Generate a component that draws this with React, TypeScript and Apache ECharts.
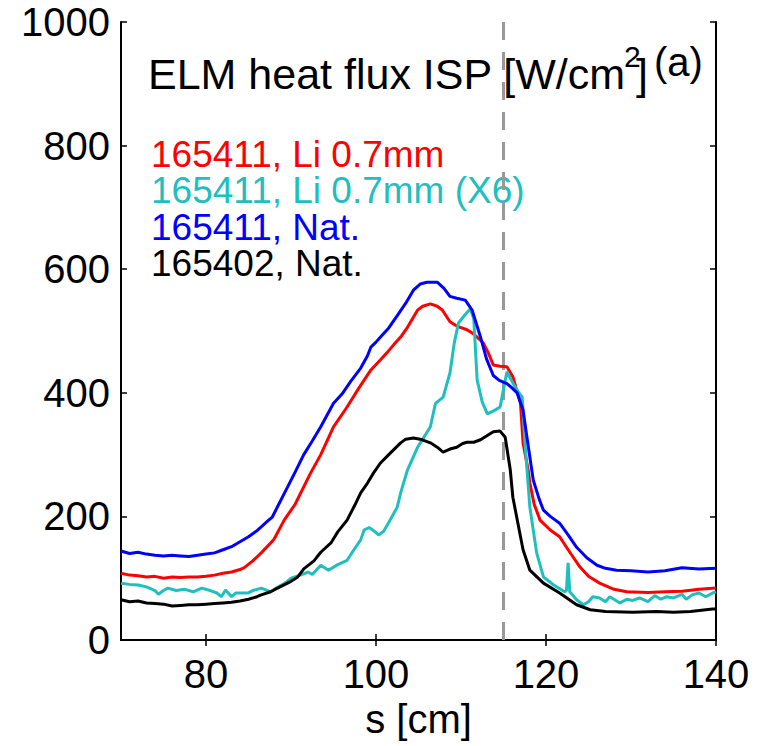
import React, { useEffect, useRef } from "react";
import * as echarts from "echarts";

// ---- data ----
const sRed = [70, 71, 72, 73, 74, 75, 76, 77, 78, 79, 80, 81, 82, 83, 84, 84.5, 85.5, 86.5, 87.6, 88, 89.2, 90.5, 92.3, 93.5, 95, 96.5, 98, 99.4, 100.5, 101.3, 102.1, 103, 103.7, 104.9, 105.5, 106.4, 107.2, 107.8, 108.7, 109.5, 110.7, 111.5, 112.6, 113.2, 113.8, 114.6, 115.4, 116.1, 117, 117.3, 117.9, 118.1, 118.6, 119.3, 120.5, 121.6, 122.8, 124, 125, 126.3, 128, 129.5, 132, 134, 136, 138, 140];
const qRed = [108, 105, 104, 102, 103, 100, 102, 101, 102, 102, 103, 105, 108, 110, 114, 117, 128, 141, 157, 163, 194, 220, 270, 300, 345, 375, 408, 437, 453, 465, 478, 492, 506, 534, 540, 544, 540, 534, 515, 508, 502, 495, 481, 465, 445, 443, 442, 426, 383, 319, 275, 254, 220, 194, 178, 167, 142, 118, 103, 92, 82, 78, 77, 78, 79, 82, 84];

const sCyan = [70, 71, 72, 73, 74, 74.4, 75, 75.5, 76.5, 77.5, 78.5, 79.5, 80.5, 81.3, 81.8, 82.3, 83, 83.5, 84.9, 85.5, 86.5, 87.6, 88.5, 89.3, 90, 91.1, 92, 92.5, 93.5, 94.4, 95.5, 96.6, 97.4, 98.2, 98.6, 99.2, 99.8, 100.3, 100.9, 101.5, 102.5, 102.9, 103.7, 104.9, 105.5, 106.4, 107, 107.9, 108.7, 109.2, 109.7, 110.4, 111.1, 111.5, 111.9, 112.5, 113.1, 114, 114.6, 115.4, 116.1, 116.8, 117.2, 117.5, 118.1, 118.9, 119.7, 120.9, 122.2, 122.4, 122.6, 122.8, 123.6, 124.4, 125, 125.5, 126.3, 127, 127.5, 128.7, 129.5, 130.2, 131, 132, 132.8, 133.5, 134.2, 135, 136, 136.5, 137.2, 138, 138.8, 139.6, 140];
const qCyan = [92, 90, 89, 86, 80, 74, 80, 84, 80, 82, 78, 84, 80, 76, 70, 81, 70, 76, 76, 80, 84, 78, 86, 92, 100, 105, 110, 106, 121, 113, 122, 129, 146, 162, 178, 182, 176, 170, 176, 190, 215, 238, 275, 312, 325, 345, 383, 393, 432, 480, 513, 525, 536, 520, 421, 385, 366, 372, 377, 434, 416, 400, 393, 324, 215, 141, 102, 89, 78, 80, 125, 78, 65, 57, 62, 70, 68, 62, 70, 60, 66, 64, 68, 62, 72, 66, 70, 68, 74, 66, 73, 76, 70, 76, 78];

const sBlue = [70, 71, 72, 73, 74, 75, 76, 77, 78, 79, 80, 81, 82, 83, 84, 85, 86, 86.5, 87.3, 87.8, 88.5, 89.5, 90.5, 91.5, 92.5, 93.5, 95, 96, 97, 98.2, 99, 99.4, 100, 100.5, 101.5, 102.5, 103.5, 104.4, 105.2, 106, 107.2, 108, 108.7, 109.5, 110.5, 111.3, 112.3, 113, 113.8, 114.5, 115.4, 116, 116.6, 117.3, 117.8, 118.5, 119.2, 119.7, 120.5, 121.6, 122.6, 123.6, 124.8, 126, 127, 128.3, 130, 132, 134, 136, 138, 140];
const qBlue = [144, 140, 142, 139, 137, 136, 137, 136, 135, 137, 139, 141, 146, 151, 159, 167, 177, 183, 193, 199, 218, 245, 272, 300, 322, 345, 383, 398, 418, 440, 460, 474, 482, 490, 505, 525, 545, 566, 576, 579, 579, 569, 556, 553, 550, 534, 490, 455, 428, 420, 415, 408, 400, 372, 324, 259, 228, 210, 200, 189, 170, 150, 133, 121, 116, 113, 112, 110, 112, 117, 115, 116];

const sBlack = [70, 71, 72, 73, 74, 75, 76, 77, 78, 79, 80, 81, 82, 83, 84, 85, 86, 86.5, 87.6, 88, 89, 90, 90.8, 91.5, 92.7, 93.5, 94.7, 95.5, 96.6, 97.5, 98.2, 99, 99.7, 100.5, 101.5, 102.9, 103.5, 104.4, 105.2, 106.4, 107.2, 107.9, 108.7, 109.5, 110.2, 110.7, 111.5, 112.3, 113, 113.8, 114.6, 115.2, 115.8, 116.1, 117.3, 118.1, 119.7, 121.6, 123.6, 125.2, 127, 130.2, 133, 135, 137, 139.6, 140];
const qBlack = [65, 62, 63, 60, 59, 58, 55, 56, 57, 57, 58, 59, 60, 61, 63, 66, 70, 73, 78, 81, 88, 95, 102, 115, 128, 142, 157, 175, 194, 218, 238, 254, 270, 286, 300, 319, 325, 327, 325, 319, 312, 304, 309, 312, 318, 320, 320, 324, 330, 337, 338, 328, 275, 231, 146, 113, 92, 76, 57, 49, 46, 45, 46, 45, 46, 50, 50];

const xTicks = [80, 100, 120, 140];
const separatrixS = 115;

const legendLabels = [
  "165411, Li 0.7mm",
  "165411, Li 0.7mm (X6)",
  "165411, Nat.",
  "165402, Nat.",
];

const FONT = "'Liberation Sans', Arial, Helvetica, sans-serif";
const RED = "#ff0000";
const CYAN = "#1fbfbf";
const BLUE = "#0000ff";
const BLACK = "#000000";
const legendColors = [RED, CYAN, BLUE, BLACK];

const zip = (s: number[], q: number[]) => s.map((x, i) => [x, q[i]]);

export default function App() {
  const ref = useRef<HTMLDivElement>(null);
  useEffect(() => {
    if (!ref.current) return;
    const chart = echarts.init(ref.current, null, { renderer: "svg" });
    const lineSeries = (name: string, data: number[][], color: string, extra: any = {}) => ({
      name,
      type: "line",
      data,
      showSymbol: false,
      symbol: "none",
      lineStyle: { color, width: 3 },
      itemStyle: { color },
      z: 3,
      ...extra,
    });
    const axisLine = { show: true, lineStyle: { color: "#000", width: 2 } };
    chart.setOption({
      animation: false,
      backgroundColor: "#fff",
      grid: { left: 113, right: 48, top: 14, bottom: 106, containLabel: false, outerBoundsMode: "none" },
      xAxis: [
        {
          type: "value",
          min: 70,
          max: 140,
          position: "bottom",
          axisLine,
          axisTick: { show: true, inside: true, length: 6, customValues: xTicks, lineStyle: { color: "#000", width: 1.5 } },
          axisLabel: { show: true, customValues: xTicks, fontSize: 40, lineHeight: 40, color: "#000", fontFamily: FONT, margin: 14 },
          splitLine: { show: false },
          name: "s [cm]",
          nameLocation: "middle",
          nameGap: 58,
          nameTextStyle: { fontSize: 40, lineHeight: 40, color: "#000", fontFamily: FONT },
        },
        {
          type: "value",
          min: 70,
          max: 140,
          position: "top",
          axisLine,
          axisTick: { show: true, inside: true, length: 6, customValues: xTicks, lineStyle: { color: "#000", width: 1.5 } },
          axisLabel: { show: false },
          splitLine: { show: false },
        },
      ],
      yAxis: [
        {
          type: "value",
          min: 0,
          max: 1000,
          interval: 200,
          position: "left",
          axisLine,
          axisTick: { show: true, inside: true, length: 6, lineStyle: { color: "#000", width: 1.5 } },
          axisLabel: { fontSize: 40, lineHeight: 32, color: "#000", fontFamily: FONT, margin: 11, formatter: (v: number) => String(v) },
          splitLine: { show: false },
        },
        {
          type: "value",
          min: 0,
          max: 1000,
          interval: 200,
          position: "right",
          axisLine,
          axisTick: { show: true, inside: true, length: 6, lineStyle: { color: "#000", width: 1.5 } },
          axisLabel: { show: false },
          splitLine: { show: false },
        },
      ],
      series: [
        lineSeries("165411, Li 0.7mm", zip(sRed, qRed), RED, {
          markLine: {
            silent: true,
            symbol: "none",
            label: { show: false },
            lineStyle: { color: "#999", width: 3, type: [18, 12] },
            data: [{ xAxis: separatrixS }],
            z: 2,
          },
        }),
        lineSeries("165411, Li 0.7mm (X6)", zip(sCyan, qCyan), CYAN),
        lineSeries("165411, Nat.", zip(sBlue, qBlue), BLUE),
        lineSeries("165402, Nat.", zip(sBlack, qBlack), BLACK),
      ],
      graphic: [
        {
          type: "text",
          x: 140,
          y: 66,
          style: { text: "ELM heat flux ISP [W/cm", fontSize: 43, fontFamily: FONT, fill: "#000", verticalAlign: "middle", align: "left" },
        },
        {
          type: "text",
          x: 616,
          y: 48,
          style: { text: "2", fontSize: 30, lineHeight: 22, fontFamily: FONT, fill: "#000", verticalAlign: "middle", align: "left" },
        },
        {
          type: "text",
          x: 628,
          y: 66,
          style: { text: "]", fontSize: 43, fontFamily: FONT, fill: "#000", verticalAlign: "middle", align: "left" },
        },
        {
          type: "text",
          x: 646,
          y: 54,
          style: { text: "(a)", fontSize: 40, fontFamily: FONT, fill: "#000", verticalAlign: "middle", align: "left" },
        },
        ...legendLabels.map((t, i) => ({
          type: "text",
          x: 143,
          y: 146 + i * 36.5,
          style: { text: t, fontSize: 37, lineHeight: 34, fontFamily: FONT, fill: legendColors[i], verticalAlign: "middle", align: "left" },
        })),
      ],
    });
    return () => chart.dispose();
  }, []);
  return <div ref={ref} style={{ width: 756, height: 738 }} />;
}
